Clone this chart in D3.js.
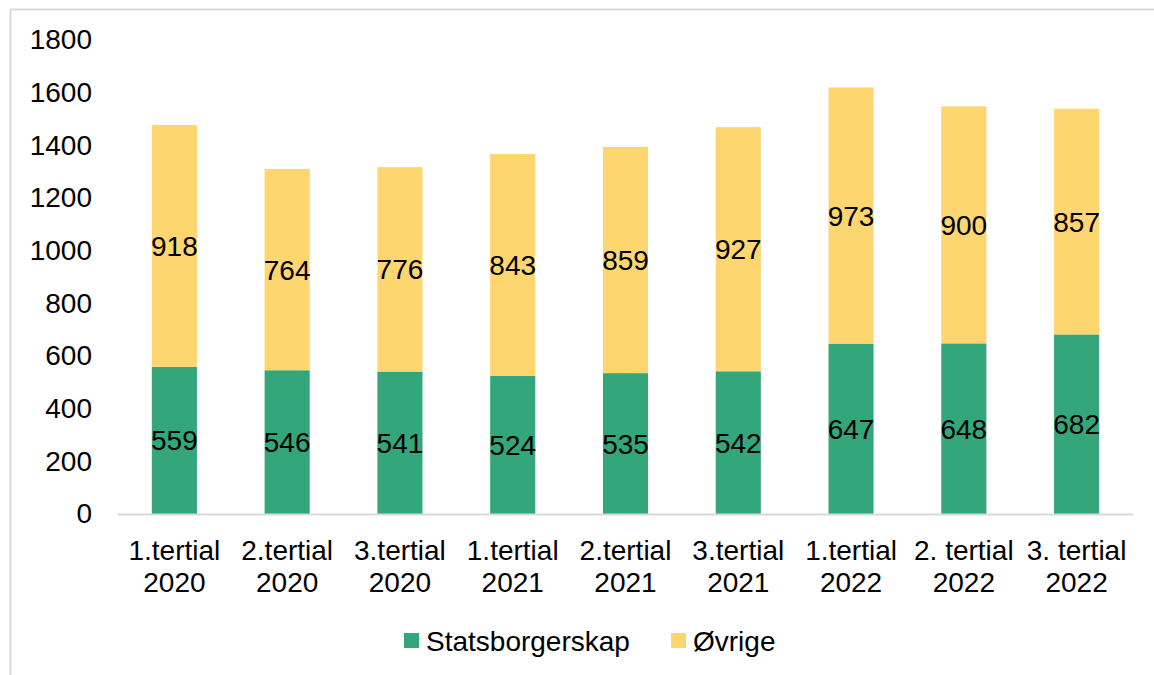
<!DOCTYPE html>
<html>
<head>
<meta charset="utf-8">
<script src="https://cdn.jsdelivr.net/npm/d3@7"></script>
<style>
  body { margin: 0; background: #fff; }
  text { font-family: "Liberation Sans", Arial, sans-serif; fill: #000; }
</style>
</head>
<body>
<script>
const width = 1154;
const height = 675;

const periods = [
  ["1.tertial", "2020"], ["2.tertial", "2020"], ["3.tertial", "2020"],
  ["1.tertial", "2021"], ["2.tertial", "2021"], ["3.tertial", "2021"],
  ["1.tertial", "2022"], ["2. tertial", "2022"], ["3. tertial", "2022"]
];
const statsborgerskap = [559, 546, 541, 524, 535, 542, 647, 648, 682];
const ovrige = [918, 764, 776, 843, 859, 927, 973, 900, 857];
const seriesNames = ["Statsborgerskap", "Øvrige"];
const colors = ["#33a77b", "#fed66f"];
const yTicks = [0, 200, 400, 600, 800, 1000, 1200, 1400, 1600, 1800];

const margin = {top: 40, right: 21, bottom: 161, left: 118};
const fontSize = "28px";

const rows = periods.map((p, i) => ({
  key: i,
  label: p,
  Statsborgerskap: statsborgerskap[i],
  "Øvrige": ovrige[i]
}));

const stacked = d3.stack().keys(seriesNames)(rows);

const x = d3.scaleBand()
  .domain(rows.map(d => d.key))
  .range([margin.left, width - margin.right])
  .paddingInner(0.6)
  .paddingOuter(0.3);

const y = d3.scaleLinear()
  .domain([0, 1800])
  .range([height - margin.bottom, margin.top]);

const svg = d3.select(document.body)
  .append("svg")
  .attr("width", width)
  .attr("height", height);

// chart frame (only left and top edges show)
svg.append("path")
  .attr("d", `M10.5,${height}V9.5H${width}`)
  .attr("fill", "none")
  .attr("stroke", "#d9d9d9")
  .attr("stroke-width", 2);

// y axis labels
const yAxis = svg.append("g")
  .attr("transform", `translate(${margin.left - 26},0)`)
  .call(d3.axisLeft(y).tickValues(yTicks).tickFormat(d3.format("d")).tickSize(0).tickPadding(0));
yAxis.select(".domain").remove();
yAxis.selectAll("text")
  .style("font-size", fontSize)
  .style("font-family", "'Liberation Sans', Arial, sans-serif")
  .attr("fill", "#000");

// bars
const layer = svg.append("g")
  .selectAll("g")
  .data(stacked)
  .join("g")
  .attr("fill", (d, i) => colors[i]);

layer.selectAll("rect")
  .data(d => d)
  .join("rect")
  .attr("x", d => x(d.data.key))
  .attr("width", x.bandwidth())
  .attr("y", d => y(d[1]))
  .attr("height", d => y(d[0]) - y(d[1]));

// value labels
layer.selectAll("text")
  .data(d => d.map(v => ({v, key: d.key})))
  .join("text")
  .attr("x", d => x(d.v.data.key) + x.bandwidth() / 2)
  .attr("y", d => (y(d.v[0]) + y(d.v[1])) / 2)
  .attr("dy", "0.36em")
  .attr("text-anchor", "middle")
  .style("font-size", fontSize)
  .text(d => d.v.data[d.key]);

// x axis baseline
svg.append("line")
  .attr("x1", margin.left)
  .attr("x2", width - margin.right)
  .attr("y1", y(0) + 0.5)
  .attr("y2", y(0) + 0.5)
  .attr("stroke", "#d9d9d9")
  .attr("stroke-width", 2);

// x labels
const xl = svg.append("g")
  .selectAll("text")
  .data(rows)
  .join("text")
  .attr("x", d => x(d.key) + x.bandwidth() / 2)
  .attr("y", 560)
  .attr("text-anchor", "middle")
  .style("font-size", fontSize);
xl.append("tspan").attr("x", d => x(d.key) + x.bandwidth() / 2).text(d => d.label[0]);
xl.append("tspan").attr("x", d => x(d.key) + x.bandwidth() / 2).attr("dy", 32).text(d => d.label[1]);

// legend
const legendItems = [
  {name: seriesNames[0], color: colors[0], x: 404},
  {name: seriesNames[1], color: colors[1], x: 671}
];
const legend = svg.append("g")
  .selectAll("g")
  .data(legendItems)
  .join("g")
  .attr("transform", d => `translate(${d.x},633)`);
legend.append("rect")
  .attr("width", 15)
  .attr("height", 15)
  .attr("fill", d => d.color);
legend.append("text")
  .attr("x", 22)
  .attr("y", 7.5)
  .attr("dy", "0.36em")
  .style("font-size", fontSize)
  .text(d => d.name);
</script>
</body>
</html>
